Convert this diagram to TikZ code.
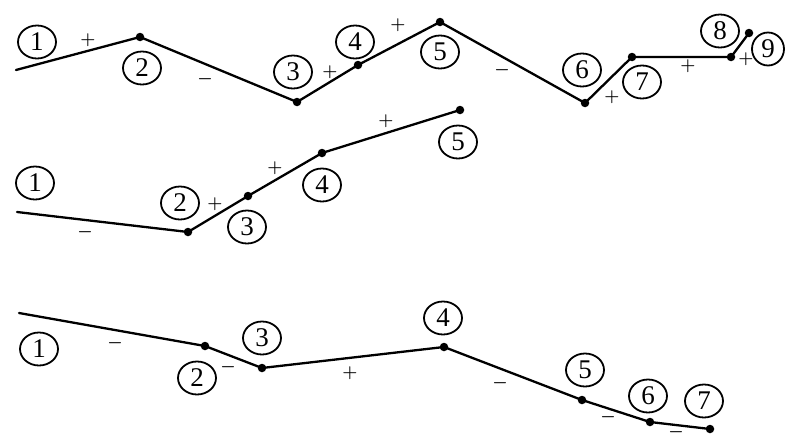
\documentclass[tikz,border=0pt]{standalone}
\usepackage{fontspec}
\setmainfont{Liberation Serif}
\usetikzlibrary{shapes.geometric}
\begin{document}
\begin{tikzpicture}[x=1pt,y=-1pt,line cap=round,line join=round]
\useasboundingbox (0,0) rectangle (785,439);
\path[fill=white] (0,0) rectangle (785,439);
\tikzset{knot/.style={circle,fill=black,inner sep=0pt,minimum size=8.5pt},num/.style={draw,ellipse,line width=1.8pt,minimum width=38pt,minimum height=33pt,inner sep=0pt,font=\fontsize{27}{27}\selectfont},sgn/.style={font=\fontsize{19}{19}\selectfont\boldmath},trace/.style={draw,line width=2.3pt}}
% upper chain
\coordinate (a0) at (16,70);
\node[knot] (a2) at (140,37) {}; \node[knot] (a3) at (297,102) {}; \node[knot] (a4) at (358,65) {};
\node[knot] (a5) at (440,22) {}; \node[knot] (a6) at (585,103) {}; \node[knot] (a7) at (632,57) {};
\node[knot] (a8) at (731,57) {}; \node[knot] (a9) at (749,33) {};
\draw[trace] (a0) -- (a2.center) -- (a3.center) -- (a4.center) -- (a5.center) -- (a6.center) -- (a7.center) -- (a8.center) -- (a9.center);
\node[num] (la1) at (37,42) {1}; \node[num] (la2) at (142,68) {2}; \node[num] (la3) at (293,72) {3};
\node[num] (la4) at (355,42) {4}; \node[num] (la5) at (440,52) {5}; \node[num] (la6) at (582,70) {6};
\node[num] (la7) at (642,82) {7}; \node[num] (la8) at (720,31) {8}; \node[num,minimum width=32pt] (la9) at (768,49) {9};
\node[sgn] (sa1) at (88,40) {$+$}; \node[sgn] (sa2) at (205,79) {$-$}; \node[sgn] (sa3) at (330,72) {$+$};
\node[sgn] (sa4) at (398,25) {$+$}; \node[sgn] (sa5) at (502,70) {$-$}; \node[sgn] (sa6) at (612,97) {$+$};
\node[sgn] (sa7) at (688,66) {$+$}; \node[sgn] (sa8) at (746,59) {$+$};
% middle chain
\coordinate (b0) at (17,212);
\node[knot] (b2) at (188,232) {}; \node[knot] (b3) at (248,196) {}; \node[knot] (b4) at (322,153) {};
\node[knot] (b5) at (460,110) {};
\draw[trace] (b0) -- (b2.center) -- (b3.center) -- (b4.center) -- (b5.center);
\node[num] (lb1) at (35,183) {1}; \node[num] (lb2) at (180,203) {2}; \node[num] (lb3) at (247,227) {3};
\node[num] (lb4) at (322,185) {4}; \node[num] (lb5) at (458,142) {5};
\node[sgn] (sb1) at (85,232) {$-$}; \node[sgn] (sb2) at (215,204) {$+$}; \node[sgn] (sb3) at (275,168) {$+$};
\node[sgn] (sb4) at (386,121) {$+$};
% lower chain
\coordinate (c0) at (19,313);
\node[knot] (c2) at (205,346) {}; \node[knot] (c3) at (262,368) {}; \node[knot] (c4) at (444,347) {};
\node[knot] (c5) at (582,400) {}; \node[knot] (c6) at (650,422) {}; \node[knot] (c7) at (710,429) {};
\draw[trace] (c0) -- (c2.center) -- (c3.center) -- (c4.center) -- (c5.center) -- (c6.center) -- (c7.center);
\node[num] (lc1) at (39,349) {1}; \node[num] (lc2) at (197,378) {2}; \node[num] (lc3) at (262,338) {3};
\node[num] (lc4) at (443,318) {4}; \node[num] (lc5) at (585,370) {5}; \node[num] (lc6) at (648,396) {6};
\node[num] (lc7) at (704,401) {7};
\node[sgn] (sc1) at (115,343) {$-$}; \node[sgn] (sc2) at (228,367) {$-$}; \node[sgn] (sc3) at (350,373) {$+$};
\node[sgn] (sc4) at (500,383) {$-$}; \node[sgn] (sc5) at (608,417) {$-$}; \node[sgn] (sc6) at (676,432) {$-$};
\end{tikzpicture}
\end{document}
